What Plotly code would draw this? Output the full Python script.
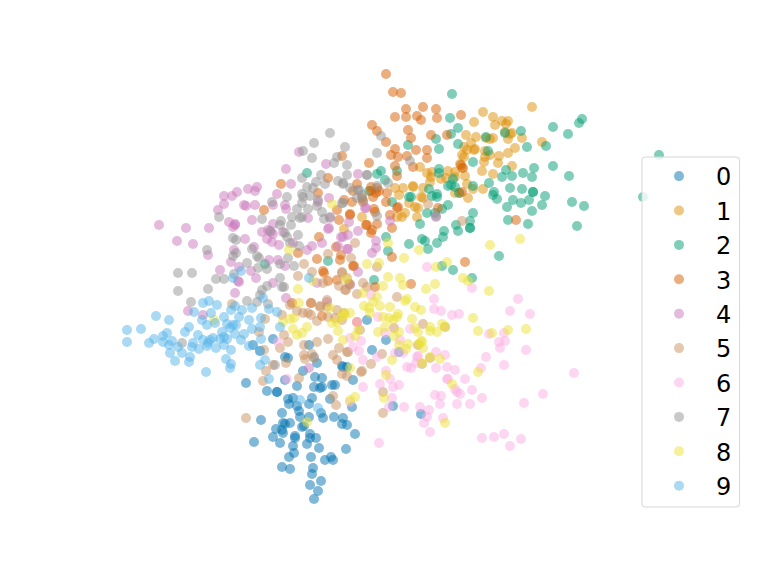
import plotly.graph_objects as go

labels = ["0","1","2","3","4","5","6","7","8","9"]
colors = ["#0173b2","#de8f05","#029e73","#d55e00","#cc78bc","#ca9161","#fbafe4","#949494","#ece133","#56b4e9"]

pts_0 = [(246,383),(267,391),(277,392),(277,392),(261,420),(254,442),(273,437),(276,429),(280,443),(282,467),(290,469),(282,413),(283,423),(285,424),(290,423),(282,430),(283,433),(289,457),(294,453),(293,446),(295,436),(295,438),(302,427),(304,426),(300,417),(299,411),(297,406),(293,398),(288,399),(289,404),(309,404),(312,398),(309,417),(321,413),(323,418),(334,417),(343,418),(342,424),(347,425),(355,434),(346,449),(319,448),(310,434),(310,438),(316,438),(307,444),(311,457),(325,460),(331,457),(333,460),(313,468),(312,474),(321,481),(310,485),(318,491),(314,499),(297,386),(315,377),(322,378),(314,387),(322,387),(320,388),(332,385),(335,385),(330,399),(352,407),(353,380),(342,366),(347,367),(317,363),(303,371),(285,357),(288,358),(285,380),(309,345),(273,339),(253,345),(260,351),(367,320),(386,340),(372,350),(399,352),(343,367),(393,406),(421,414)]
pts_1 = [(532,107),(483,112),(493,117),(474,122),(502,121),(508,121),(495,125),(506,124),(505,132),(512,133),(510,134),(508,139),(522,138),(542,142),(466,135),(476,137),(490,139),(493,138),(486,138),(471,143),(464,147),(467,150),(474,150),(475,149),(485,151),(485,157),(490,155),(462,155),(464,157),(484,162),(499,156),(498,163),(515,148),(508,153),(512,166),(460,164),(462,168),(482,171),(493,174),(448,171),(455,172),(465,176),(420,167),(427,173),(432,172),(431,177),(441,179),(446,178),(455,177),(467,184),(473,189),(483,189),(468,198),(455,193),(460,193),(430,182),(413,186),(413,187),(423,188),(403,188),(395,188),(399,195),(409,203),(415,207),(418,208),(417,217),(423,198),(421,197),(405,213),(402,217),(397,217),(362,217),(344,229)]
pts_2 = [(452,94),(450,118),(458,128),(451,134),(436,139),(439,149),(458,144),(486,137),(505,133),(521,131),(488,151),(527,147),(546,146),(553,127),(568,134),(579,123),(582,119),(553,166),(569,176),(534,168),(532,177),(523,173),(512,176),(506,170),(502,177),(473,162),(439,169),(439,173),(453,179),(448,186),(451,185),(455,187),(473,186),(459,193),(489,183),(494,192),(493,195),(497,199),(510,188),(522,189),(533,192),(533,192),(545,196),(529,200),(513,200),(521,203),(507,207),(542,205),(572,202),(584,206),(532,211),(508,220),(528,224),(577,226),(473,213),(470,221),(456,225),(458,231),(470,228),(470,228),(444,231),(443,237),(437,243),(422,239),(425,241),(428,249),(409,244),(420,224),(427,213),(435,213),(448,205),(442,209),(429,189),(432,196),(437,194),(437,197),(411,197),(409,197),(392,202),(385,180),(381,171),(397,171),(377,174),(408,145),(369,191),(386,237),(388,251),(499,256),(442,266),(453,270),(472,278),(374,280),(659,155),(643,197),(265,264),(307,173),(328,261)]
pts_3 = [(386,74),(393,92),(401,93),(406,109),(423,107),(436,109),(461,115),(395,117),(406,117),(417,116),(421,120),(437,118),(372,125),(377,131),(408,130),(411,138),(431,135),(447,135),(386,142),(395,149),(416,150),(427,150),(391,155),(398,157),(407,156),(427,158),(342,156),(369,163),(395,166),(397,176),(413,167),(461,165),(463,168),(357,184),(353,191),(371,187),(371,191),(377,188),(379,191),(376,193),(373,197),(344,200),(352,202),(362,198),(363,202),(387,193),(386,202),(398,207),(397,208),(374,209),(375,212),(390,215),(350,214),(367,225),(377,224),(372,230),(371,233),(392,228),(438,208),(462,192),(516,220),(465,262),(392,257),(353,266),(411,284),(375,287),(281,184),(328,178),(264,210),(318,193),(337,210),(339,220),(350,215),(366,225),(319,237),(336,247),(298,253),(317,259),(341,255),(340,260),(354,266),(323,271),(324,273),(328,281),(337,280),(292,303),(311,303),(322,316),(357,322)]
pts_4 = [(159,225),(186,228),(177,241),(193,244),(209,228),(208,255),(229,222),(218,210),(224,204),(224,196),(232,196),(237,192),(248,189),(255,191),(257,187),(244,205),(246,206),(255,205),(252,220),(233,227),(235,224),(235,225),(262,232),(245,239),(254,247),(234,250),(231,262),(220,270),(239,267),(251,271),(256,278),(238,281),(235,293),(286,169),(299,152),(326,164),(358,174),(291,184),(277,194),(273,205),(286,209),(285,205),(273,224),(268,230),(267,239),(271,232),(273,234),(272,242),(279,245),(283,232),(293,243),(307,250),(312,246),(322,243),(269,260),(278,260),(285,266),(273,283),(286,298),(308,218),(317,283),(329,198),(318,202),(330,218),(329,228),(328,229),(349,222),(348,235),(341,237),(338,246),(348,249),(358,231),(365,208),(358,272),(327,302),(350,285),(188,311),(203,315),(309,368),(239,282),(366,208),(390,221),(343,237),(376,241),(376,248),(372,253),(347,249),(436,217)]
pts_5 = [(246,418),(263,381),(266,371),(336,405),(333,396),(299,378),(286,363),(273,365),(264,350),(280,348),(288,342),(284,335),(259,332),(265,319),(282,315),(232,304),(297,311),(303,313),(308,313),(311,315),(317,321),(320,307),(327,307),(337,310),(328,317),(335,318),(328,339),(317,342),(304,345),(312,354),(305,359),(304,355),(314,358),(333,355),(337,360),(342,374),(347,376),(339,348),(347,352),(339,286),(346,290),(357,294),(323,283),(361,372),(383,413),(383,392),(362,371),(371,364),(382,354),(348,352),(397,297),(423,324),(394,328),(418,345),(430,358),(422,364),(445,327),(363,283),(367,287),(350,284),(345,290),(347,278),(342,273),(360,330),(342,320),(344,313),(355,243),(351,258),(328,254),(304,264),(298,276),(312,272),(342,272),(349,284),(327,300),(320,306),(311,303),(290,305),(377,267),(428,204),(462,221)]
pts_6 = [(427,267),(472,288),(434,299),(518,299),(434,309),(441,311),(452,315),(459,314),(510,311),(530,314),(371,295),(378,317),(357,322),(350,338),(361,341),(353,347),(359,351),(363,360),(377,357),(385,333),(410,329),(400,340),(395,353),(403,353),(418,356),(417,357),(416,363),(436,352),(445,355),(407,367),(411,368),(436,368),(447,367),(455,370),(481,368),(486,357),(504,365),(500,348),(499,342),(505,341),(504,333),(489,334),(526,350),(574,373),(386,371),(390,379),(380,384),(393,387),(399,385),(363,387),(447,379),(448,379),(465,379),(455,389),(457,392),(460,394),(472,390),(482,398),(435,395),(441,396),(440,404),(457,404),(470,404),(524,403),(543,394),(392,398),(350,402),(389,407),(404,407),(420,407),(429,410),(427,417),(443,418),(424,423),(430,432),(482,438),(494,437),(504,434),(510,446),(521,439),(379,443),(278,342),(287,379)]
pts_7 = [(330,133),(314,143),(303,151),(345,147),(312,158),(337,157),(334,163),(347,165),(347,175),(367,175),(321,175),(302,178),(316,182),(307,187),(313,188),(325,184),(338,181),(343,183),(350,188),(359,190),(362,195),(357,198),(363,200),(302,194),(303,197),(287,197),(272,202),(302,203),(310,196),(318,200),(317,206),(308,209),(297,209),(342,203),(322,212),(324,219),(292,217),(300,218),(302,217),(281,221),(291,225),(262,219),(219,217),(270,231),(280,225),(285,233),(287,237),(298,235),(233,238),(236,240),(207,250),(252,249),(236,253),(233,256),(257,256),(259,258),(247,263),(258,268),(267,269),(288,258),(294,266),(299,246),(290,243),(280,264),(178,273),(192,273),(216,279),(224,279),(234,274),(178,291),(208,289),(191,302),(247,301),(262,290),(267,286),(280,278),(282,287),(284,287),(260,295),(257,302),(330,217),(182,343),(268,304),(275,365),(314,357),(377,153),(381,136),(410,161),(367,175),(343,184),(358,190),(377,186),(388,183),(343,203),(377,216),(436,216)]
pts_8 = [(388,277),(400,278),(403,285),(383,286),(426,289),(435,284),(463,278),(468,281),(489,291),(363,293),(377,297),(373,302),(405,301),(407,299),(364,306),(369,308),(370,313),(380,306),(390,307),(415,307),(421,310),(398,314),(397,317),(389,318),(383,317),(393,320),(412,319),(473,318),(350,313),(345,315),(342,317),(385,327),(378,332),(394,336),(399,332),(415,328),(418,332),(430,327),(430,331),(437,332),(442,324),(445,327),(478,331),(492,333),(508,330),(526,329),(358,330),(355,336),(343,340),(399,345),(408,344),(406,349),(422,341),(421,342),(419,344),(423,348),(392,360),(422,363),(440,359),(430,357),(478,372),(386,375),(350,368),(452,384),(384,398),(355,397),(350,400),(445,423),(298,289),(299,303),(214,320),(283,322),(290,319),(294,318),(293,329),(297,335),(302,333),(307,327),(330,308),(332,323),(337,322),(338,331),(343,313),(307,422),(388,243),(419,250),(404,258),(490,245),(520,239),(367,264),(379,263),(436,267),(447,262),(332,204),(289,250),(346,279),(313,281)]
pts_9 = [(127,330),(127,342),(141,329),(149,343),(154,339),(156,316),(169,320),(163,336),(167,333),(163,342),(169,345),(172,341),(170,353),(178,347),(182,353),(175,361),(190,357),(189,362),(185,332),(189,327),(194,312),(203,303),(209,301),(217,305),(202,320),(207,325),(211,313),(215,323),(224,317),(231,310),(235,306),(242,310),(252,308),(239,317),(227,324),(233,325),(236,325),(230,328),(249,320),(261,318),(252,329),(244,334),(235,334),(241,340),(222,332),(224,337),(227,339),(220,339),(213,338),(210,340),(208,343),(207,346),(198,335),(203,340),(192,347),(193,343),(199,349),(216,348),(224,345),(231,350),(226,359),(231,364),(230,368),(206,372),(249,346),(261,339),(260,351),(260,365),(265,360),(269,379),(318,408),(300,400),(269,309),(277,312),(260,327),(263,298),(280,327),(233,278),(241,271),(309,278)]

series = [pts_0, pts_1, pts_2, pts_3, pts_4, pts_5, pts_6, pts_7, pts_8, pts_9]

fig = go.Figure()
for name, color, pts in zip(labels, colors, series):
    fig.add_trace(go.Scatter(
        x=[p[0] for p in pts], y=[p[1] for p in pts], mode="markers", name=name,
        legendgroup=name,
        marker=dict(color=color, size=10, opacity=0.5, line=dict(width=0)),
    ))

fig.update_layout(
    width=766, height=565, margin=dict(l=0, r=0, t=0, b=0),
    paper_bgcolor="white", plot_bgcolor="white", showlegend=True,
    xaxis=dict(range=[0, 766], visible=False),
    yaxis=dict(range=[565, 0], visible=False),
    font=dict(family="DejaVu Sans", color="black"),
    legend=dict(x=642/766, y=1-154/565, xanchor="left", yanchor="top",
                bgcolor="rgba(0,0,0,0)", borderwidth=0,
                font=dict(size=24, family="DejaVu Sans"),
                itemwidth=64, tracegroupgap=0.2, itemclick=False, itemdoubleclick=False),
    shapes=[dict(type="path", xref="x", yref="y", layer="above",
                 path="M 645 157 L 736 157 Q 739.5 157 739.5 160 L 739.5 504 Q 739.5 507 736 507 "
                      "L 645 507 Q 642 507 642 504 L 642 160 Q 642 157 645 157 Z",
                 fillcolor="rgba(255,255,255,0.8)", line=dict(color="#d6d6d6", width=1))],
)
fig.write_html("out.html", config={"displayModeBar": False},
               post_script="document.body.style.margin='0';")
